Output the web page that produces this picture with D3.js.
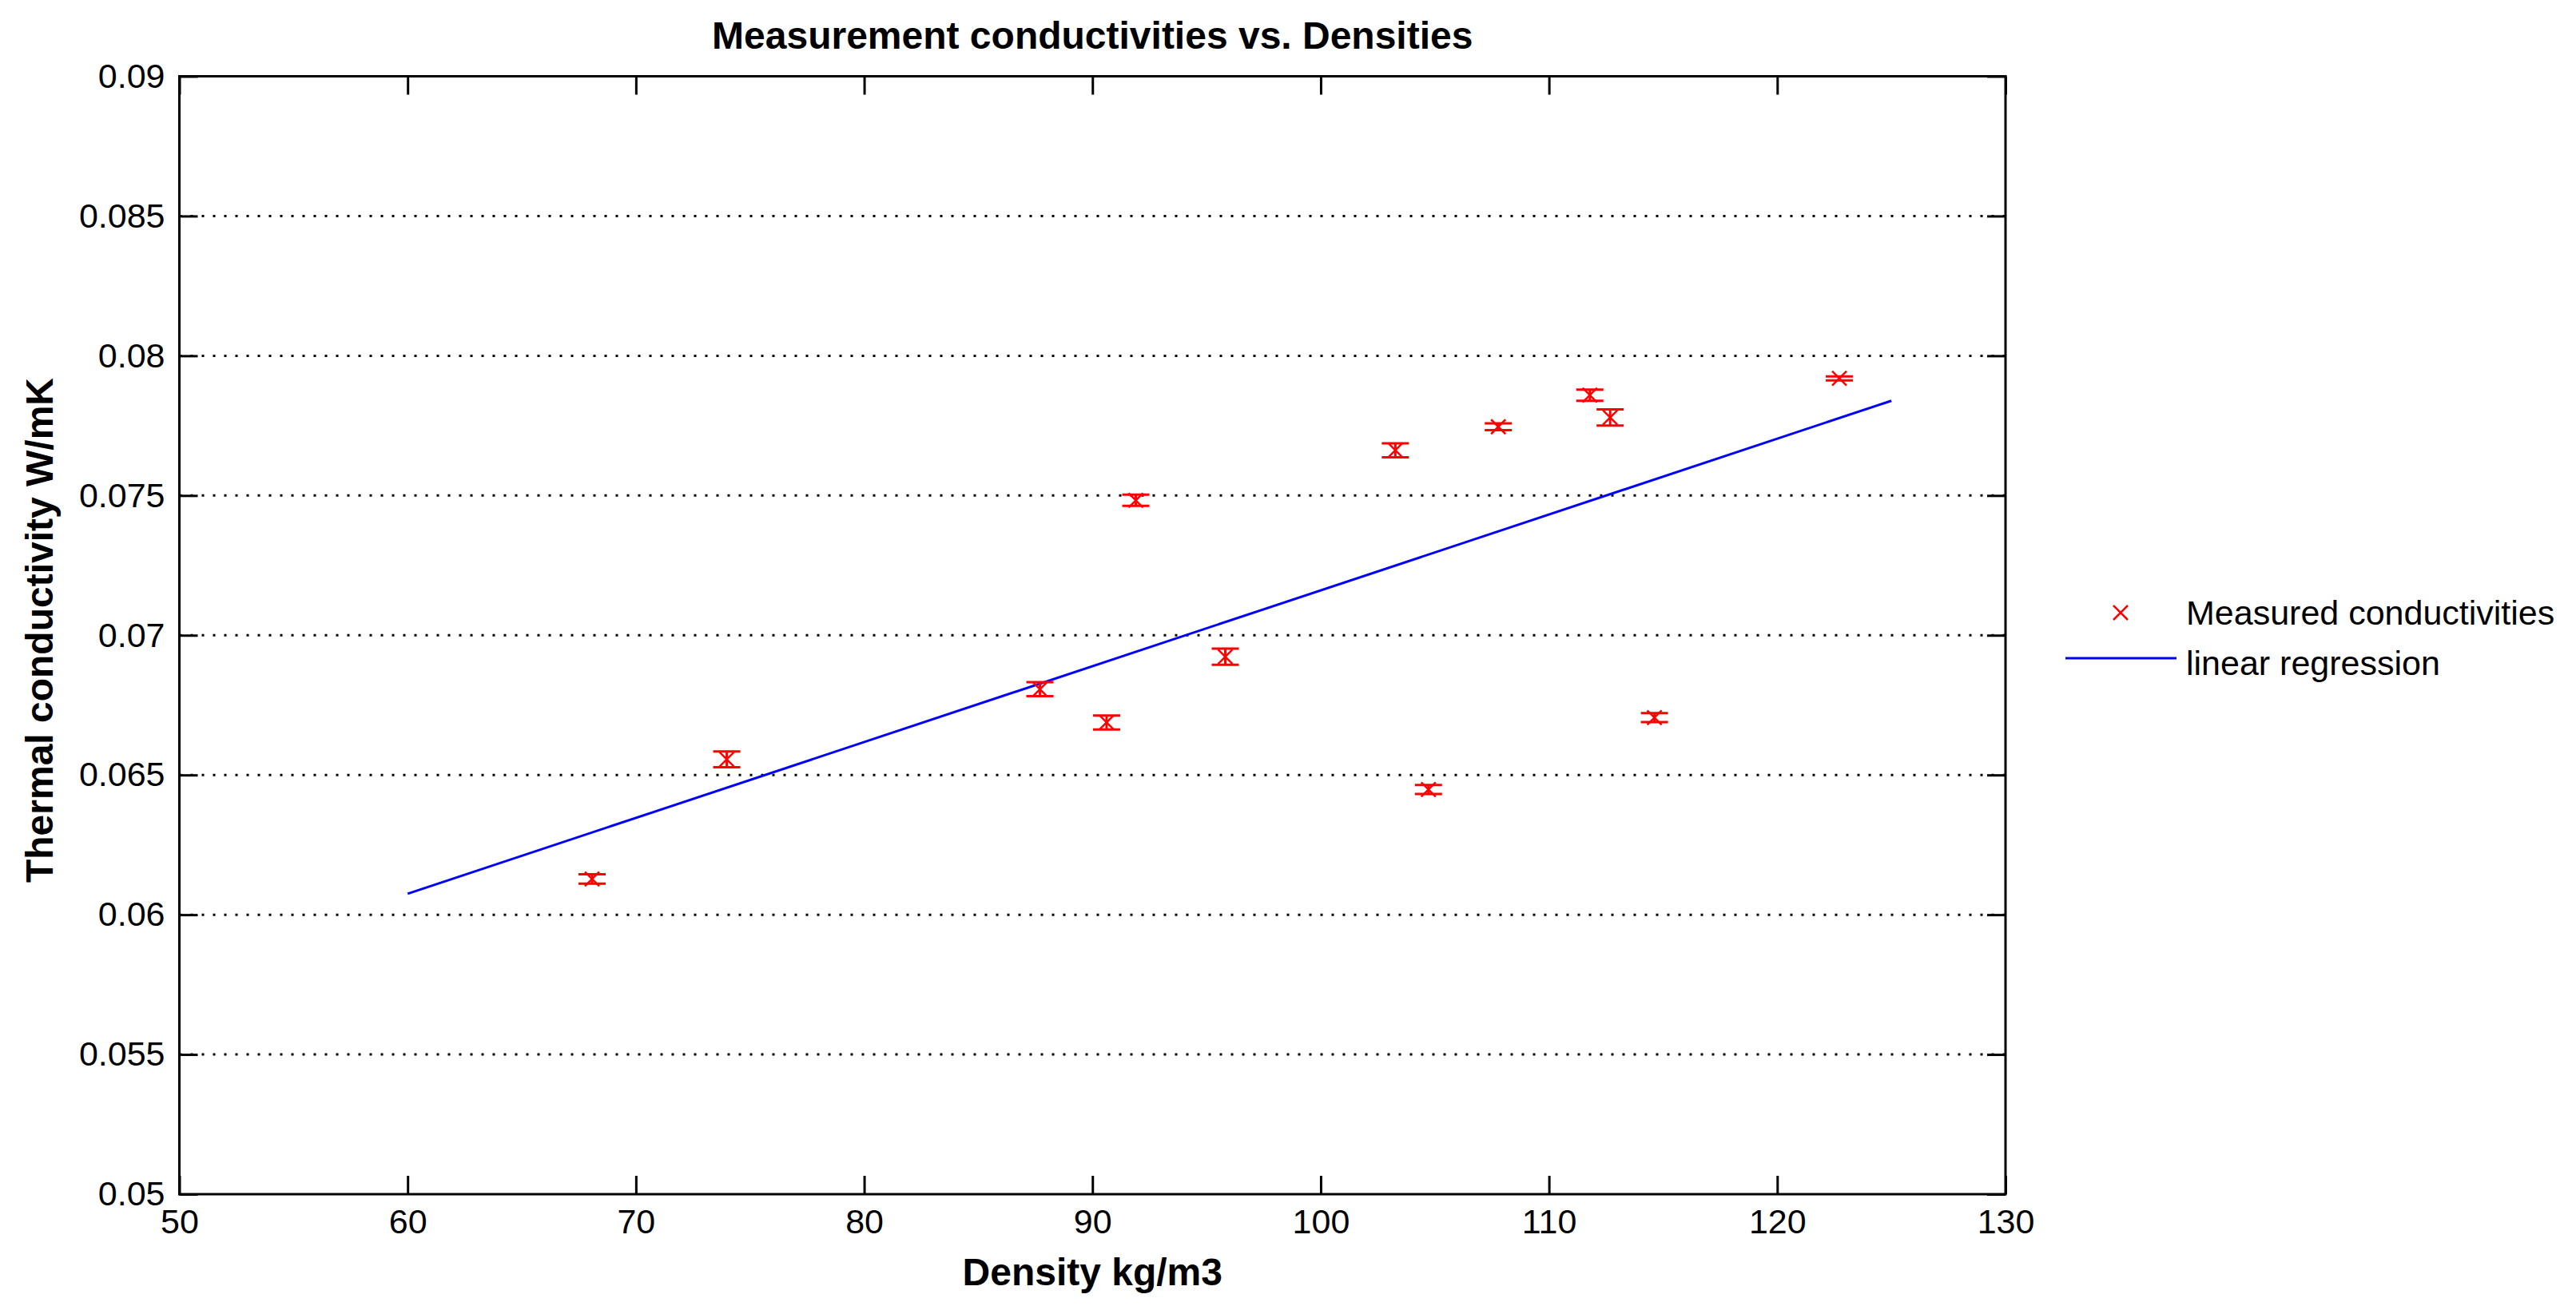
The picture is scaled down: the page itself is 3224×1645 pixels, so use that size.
<!DOCTYPE html>
<html>
<head>
<meta charset="utf-8">
<script src="https://cdn.jsdelivr.net/npm/d3@7"></script>
<style>
  html, body { margin: 0; padding: 0; background: #ffffff; }
  svg { display: block; }
</style>
</head>
<body>
<script>
// ---- data ----
const density      = [68.08, 73.98, 87.70, 90.62, 91.90, 95.82, 103.27, 104.72, 107.78, 111.79, 112.68, 114.62, 122.72];
const conductivity = [0.06128, 0.06556, 0.06807, 0.06688, 0.07483, 0.06923, 0.07662, 0.06448, 0.07746, 0.07859, 0.07779, 0.06705, 0.07919];
const errorHalf    = [0.00017, 0.00028, 0.00025, 0.00025, 0.00020, 0.00029, 0.00025, 0.00016, 0.00012, 0.00020, 0.00029, 0.00016, 0.00007];
const fitDensity      = [60, 125];
const fitConductivity = [0.06075, 0.07839];
const xTicks = [50, 60, 70, 80, 90, 100, 110, 120, 130];
const xTickLabels = ["50", "60", "70", "80", "90", "100", "110", "120", "130"];
const yTicks = [0.05, 0.055, 0.06, 0.065, 0.07, 0.075, 0.08, 0.085, 0.09];
const yTickLabels = ["0.05", "0.055", "0.06", "0.065", "0.07", "0.075", "0.08", "0.085", "0.09"];
const legendLabels = ["Measured conductivities", "linear regression"];
const titleText = "Measurement conductivities vs. Densities";
const xLabelText = "Density kg/m3";
const yLabelText = "Thermal conductivity W/mK";

// ---- layout ----
const W = 3224, H = 1645;
const L = 224.5, R = 2510, T = 95.5, B = 1495;
const FONT = "'Liberation Sans', Arial, Helvetica, sans-serif";
const RED = "#ff0000", BLUE = "#0000ff";

const svg = d3.select("body").append("svg").attr("width", W).attr("height", H);
svg.append("rect").attr("width", W).attr("height", H).attr("fill", "#ffffff");

const x = d3.scaleLinear().domain([xTicks[0], xTicks[xTicks.length - 1]]).range([L, R]);
const y = d3.scaleLinear().domain([yTicks[0], yTicks[yTicks.length - 1]]).range([B, T]);

// grid (horizontal dotted)
svg.append("g").selectAll("line").data(yTicks.slice(1, -1)).join("line")
  .attr("x1", L).attr("x2", R)
  .attr("y1", d => y(d)).attr("y2", d => y(d))
  .attr("stroke", "#000").attr("stroke-width", 3)
  .attr("stroke-dasharray", "3,11");

// axes
const TICK = 23;
function styleAxis(g) {
  g.select(".domain").remove();
  g.selectAll(".tick line").attr("stroke", "#000").attr("stroke-width", 3);
  g.selectAll(".tick text").attr("fill", "#000").attr("font-family", FONT).attr("font-size", 43);
}
const xfmt = (d, i) => xTickLabels[i];
const yfmt = (d, i) => yTickLabels[i];

svg.append("g").attr("transform", `translate(0,${B})`)
  .call(d3.axisBottom(x).tickValues(xTicks).tickFormat(xfmt).tickSize(-TICK).tickPadding(18))
  .call(styleAxis);
svg.append("g").attr("transform", `translate(0,${T})`)
  .call(d3.axisTop(x).tickValues(xTicks).tickFormat(() => "").tickSize(-TICK))
  .call(styleAxis);
svg.append("g").attr("transform", `translate(${L},0)`)
  .call(d3.axisLeft(y).tickValues(yTicks).tickFormat(yfmt).tickSize(-TICK).tickPadding(18))
  .call(styleAxis);
svg.append("g").attr("transform", `translate(${R},0)`)
  .call(d3.axisRight(y).tickValues(yTicks).tickFormat(() => "").tickSize(-TICK))
  .call(styleAxis);

// box
svg.append("rect").attr("x", L).attr("y", T).attr("width", R - L).attr("height", B - T)
  .attr("fill", "none").attr("stroke", "#000").attr("stroke-width", 3);

// regression line
const fitData = fitDensity.map((d, i) => [d, fitConductivity[i]]);
svg.append("path").datum(fitData)
  .attr("d", d3.line().x(d => x(d[0])).y(d => y(d[1])))
  .attr("fill", "none").attr("stroke", BLUE).attr("stroke-width", 3);

// error bars with x markers
const pts = density.map((d, i) => ({ x: d, y: conductivity[i], e: errorHalf[i] }));
const CAP = 17, MK = 9;
const eb = svg.append("g").selectAll("g").data(pts).join("g");
eb.append("line")
  .attr("x1", d => x(d.x)).attr("x2", d => x(d.x))
  .attr("y1", d => y(d.y - d.e)).attr("y2", d => y(d.y + d.e))
  .attr("stroke", RED).attr("stroke-width", 3);
eb.append("line")
  .attr("x1", d => x(d.x) - CAP).attr("x2", d => x(d.x) + CAP)
  .attr("y1", d => y(d.y - d.e)).attr("y2", d => y(d.y - d.e))
  .attr("stroke", RED).attr("stroke-width", 3);
eb.append("line")
  .attr("x1", d => x(d.x) - CAP).attr("x2", d => x(d.x) + CAP)
  .attr("y1", d => y(d.y + d.e)).attr("y2", d => y(d.y + d.e))
  .attr("stroke", RED).attr("stroke-width", 3);
eb.append("path")
  .attr("d", d => {
    const cx = x(d.x), cy = y(d.y);
    return `M${cx - MK},${cy - MK}L${cx + MK},${cy + MK}M${cx - MK},${cy + MK}L${cx + MK},${cy - MK}`;
  })
  .attr("fill", "none").attr("stroke", RED).attr("stroke-width", 2.5);

// title and labels
svg.append("text").attr("x", (L + R) / 2).attr("y", 61).attr("text-anchor", "middle")
  .attr("font-family", FONT).attr("font-weight", "bold").attr("font-size", 48)
  .text(titleText);
svg.append("text").attr("x", (L + R) / 2).attr("y", 1609).attr("text-anchor", "middle")
  .attr("font-family", FONT).attr("font-weight", "bold").attr("font-size", 48)
  .text(xLabelText);
svg.append("text").attr("transform", `translate(66,789) rotate(-90)`).attr("text-anchor", "middle")
  .attr("font-family", FONT).attr("font-weight", "bold").attr("font-size", 48)
  .text(yLabelText);

// legend
const lg = svg.append("g");
const mkx = 2654, r1 = 767, r2 = 824;
lg.append("path")
  .attr("d", `M${mkx - MK},${r1 - MK}L${mkx + MK},${r1 + MK}M${mkx - MK},${r1 + MK}L${mkx + MK},${r1 - MK}`)
  .attr("fill", "none").attr("stroke", RED).attr("stroke-width", 2.5);
lg.append("line").attr("x1", 2585).attr("x2", 2724).attr("y1", r2).attr("y2", r2)
  .attr("stroke", BLUE).attr("stroke-width", 3);
lg.selectAll("text").data(legendLabels).join("text")
  .attr("x", 2736).attr("y", (d, i) => i === 0 ? 782 : 845)
  .attr("font-family", FONT).attr("font-size", 43).attr("fill", "#000")
  .text(d => d);
</script>
</body>
</html>
